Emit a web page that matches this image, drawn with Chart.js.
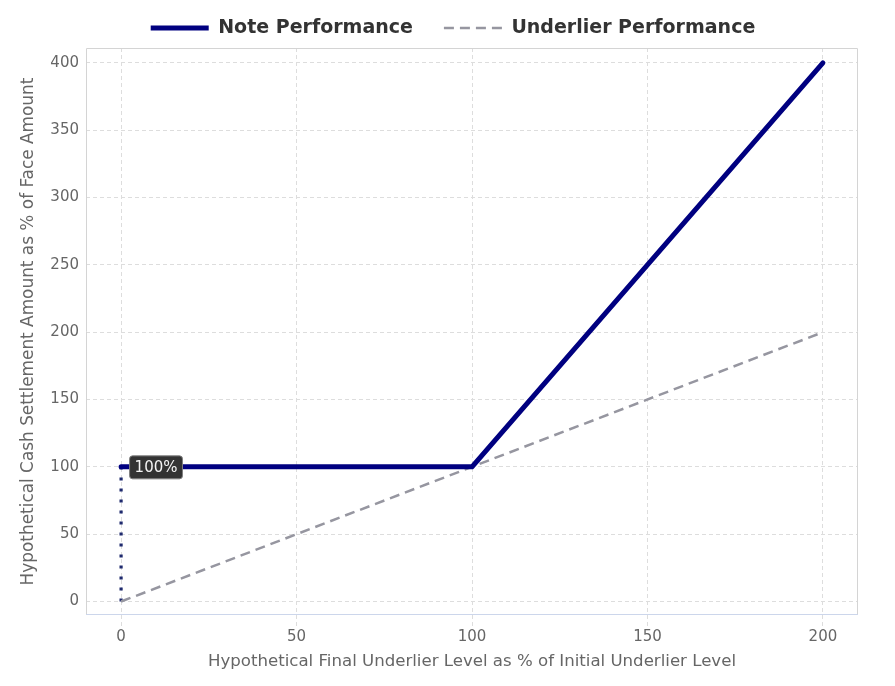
<!DOCTYPE html>
<html><head><meta charset="utf-8">
<script src="https://cdn.jsdelivr.net/npm/chart.js@4.4.1/dist/chart.umd.min.js"></script>
<style>html,body{margin:0;padding:0;background:#fff}#wrap{width:895px;height:686px}</style>
</head><body><div id="wrap"><canvas id="c" width="895" height="686"></canvas></div>
<script>
const noteX = [0, 100, 200];
const noteY = [100, 100, 400];
const underX = [0, 200];
const underY = [0, 200];
const floorX = [0, 0];
const floorY = [0, 100];
const xTicks = [0, 50, 100, 150, 200];
const yTicks = [0, 50, 100, 150, 200, 250, 300, 350, 400];
const labelText = '100%';
const labelPoint = {x: 0, y: 100};

const pts = (xs, ys) => xs.map((x, i) => ({x, y: ys[i]}));

const borderPlugin = {
  id: 'borderPlugin',
  afterInit(chart) {
    const lg = chart.legend;
    if (lg) {
      const f = lg.fit;
      lg.fit = function() { f.call(this); this.height = 48; };
    }
  },
  afterLayout(chart) {
    const lg = chart.legend;
    if (lg) { lg.top -= 12.5; lg.bottom -= 12.5; lg.left += 24; lg.right += 24; }
  },
  beforeDatasetsDraw(chart) {
    const {ctx, chartArea: a} = chart;
    ctx.save();
    ctx.lineWidth = 1;
    ctx.strokeStyle = '#d4d4d4';
    ctx.beginPath();
    ctx.moveTo(a.left + 0.5, a.bottom);
    ctx.lineTo(a.left + 0.5, a.top + 0.5);
    ctx.lineTo(a.right - 0.5, a.top + 0.5);
    ctx.lineTo(a.right - 0.5, a.bottom);
    ctx.stroke();
    ctx.strokeStyle = '#ccd6eb';
    ctx.beginPath();
    ctx.moveTo(a.left, a.bottom - 0.5);
    ctx.lineTo(a.right, a.bottom - 0.5);
    ctx.stroke();
    ctx.restore();
  },
  afterDatasetsDraw(chart) {
    const {ctx, scales} = chart;
    const px = scales.x.getPixelForValue(labelPoint.x);
    const py = scales.y.getPixelForValue(labelPoint.y);
    ctx.save();
    ctx.font = '15px "DejaVu Sans"';
    const w = ctx.measureText(labelText).width + 10;
    const h = 23;
    const bx = px + 8, by = py - h / 2;
    ctx.fillStyle = '#333333';
    ctx.strokeStyle = '#808080';
    ctx.lineWidth = 1;
    ctx.beginPath();
    ctx.roundRect(bx + 0.5, by + 0.5, w, h, 3);
    ctx.fill();
    ctx.stroke();
    ctx.fillStyle = '#f4f4f4';
    ctx.textBaseline = 'middle';
    ctx.textAlign = 'left';
    ctx.fillText(labelText, bx + 5.5, py + 1);
    ctx.restore();
  }
};

new Chart(document.getElementById('c'), {
  type: 'line',
  data: {
    datasets: [
      {label: 'Note Performance', data: pts(noteX, noteY), borderColor: '#000080', backgroundColor: '#000080',
       borderWidth: 5, pointRadius: 0, borderCapStyle: 'round', borderJoinStyle: 'round', order: 1},
      {label: 'Underlier Performance', data: pts(underX, underY), borderColor: '#9696a0', backgroundColor: '#9696a0',
       borderWidth: 2.5, borderDash: [10, 6], pointRadius: 0, order: 2},
      {label: 'floor', data: pts(floorX, floorY), borderColor: '#1f2a6e', borderWidth: 3.2,
       borderDash: [3, 8], borderCapStyle: 'butt', pointRadius: 0, order: 3}
    ]
  },
  options: {
    responsive: false,
    animation: false,
    layout: {padding: {left: 0, right: 37, top: 0, bottom: 0}},
    plugins: {
      legend: {
        position: 'top',
        labels: {
          usePointStyle: true,
          pointStyle: 'line',
          pointStyleWidth: 58,
          boxWidth: 58,
          boxHeight: 8,
          padding: 31,
          color: '#333333',
          font: {family: '"DejaVu Sans"', size: 19, weight: 'bold'},
          generateLabels(chart) {
            return chart.data.datasets.filter(d => d.label !== 'floor').map((d, i) => ({
              text: d.label, strokeStyle: d.borderColor, fillStyle: d.borderColor, fontColor: '#333333',
              lineWidth: i === 0 ? 5 : 2.5, lineDash: d.borderDash || [], pointStyle: 'line', datasetIndex: i
            }));
          }
        }
      },
      tooltip: {enabled: false}
    },
    scales: {
      x: {
        type: 'linear', min: -10, max: 210,
        afterBuildTicks: s => { s.ticks = xTicks.map(v => ({value: v})); },
        afterFit: s => { s.height = 71; },
        grid: {color: '#dddddd', tickColor: '#dddddd', borderDash: [4, 3], tickBorderDash: [4, 3], tickLength: 12, drawTicks: true},
        border: {display: false, dash: [4, 3]},
        ticks: {color: '#666666', font: {family: '"DejaVu Sans"', size: 15}, padding: 1},
        title: {display: true, text: 'Hypothetical Final Underlier Level as % of Initial Underlier Level',
                color: '#666666', font: {family: '"DejaVu Sans"', size: 16.6}, padding: {top: 0, bottom: 14}}
      },
      y: {
        type: 'linear', min: -10, max: 411,
        afterBuildTicks: s => { s.ticks = yTicks.map(v => ({value: v})); },
        afterFit: s => { s.width = 86; },
        grid: {color: '#dddddd', borderDash: [4, 3], drawTicks: false},
        border: {display: false, dash: [4, 3]},
        ticks: {color: '#666666', font: {family: '"DejaVu Sans"', size: 15}, padding: 7},
        title: {display: true, text: 'Hypothetical Cash Settlement Amount as % of Face Amount',
                color: '#666666', font: {family: '"DejaVu Sans"', size: 16.9}, padding: {top: 18, bottom: 0}}
      }
    }
  },
  plugins: [borderPlugin]
});
</script></body></html>
